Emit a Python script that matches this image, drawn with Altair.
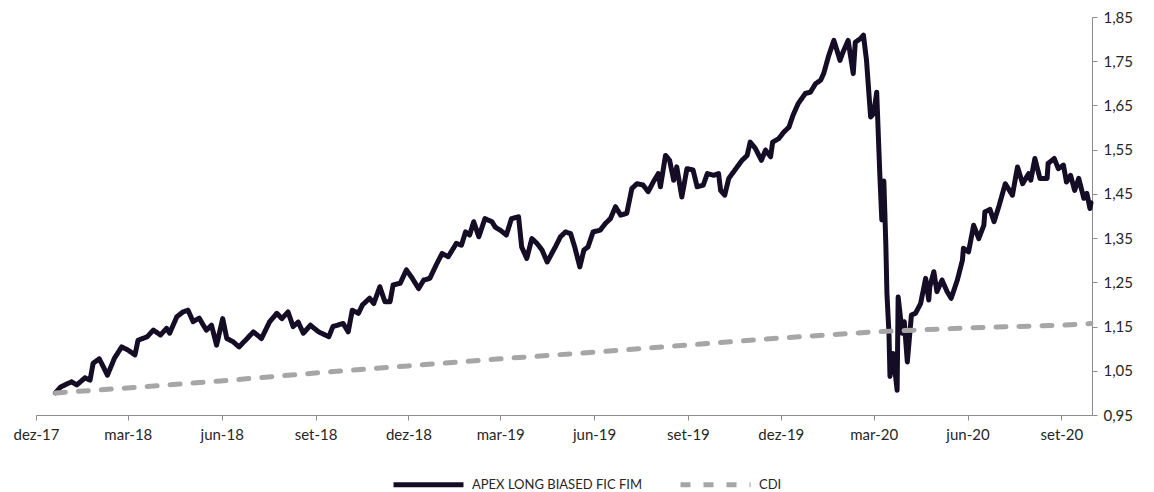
import altair as alt
import pandas as pd

START = "2017-12-01"  # day 0 of the day offsets below

fund_name = "APEX LONG BIASED FIC FIM"
cdi_name = "CDI"

fund_days = [19, 24, 30, 35, 40, 48, 53, 56, 62, 66, 70, 77, 84, 90, 97, 100, 109, 115, 122, 128,
             131, 138, 144, 149, 154, 160, 164, 167, 172, 177, 183, 187, 193, 199, 207, 213, 221, 229, 236, 241,
             247, 252, 257, 262, 269, 277, 287, 291, 301, 306, 310, 316, 320, 327, 331, 337, 342, 347, 350, 357,
             363, 368, 375, 380, 386, 393, 398, 404, 412, 417, 421, 425, 429, 434, 440, 447, 450, 455, 461, 466,
             473, 476, 481, 486, 491, 496, 501, 509, 514, 519, 524, 528, 533, 537, 541, 546, 553, 558, 563, 568,
             573, 579, 584, 589, 595, 600, 605, 610, 612, 617, 621, 625, 628, 633, 638, 644, 648, 654, 658, 664,
             669, 671, 675, 679, 685, 692, 697, 700, 705, 711, 715, 720, 722, 728, 733, 738, 742, 747, 754, 759,
             764, 769, 772, 777, 782, 785, 788, 791, 796, 801, 803, 808, 811, 814, 818, 821, 824, 827, 829, 831,
             833, 834, 836, 837, 840, 844, 845, 849, 851, 854, 858, 862, 867, 872, 875, 876, 880, 883, 888, 893,
             897, 903, 908, 909, 914, 919, 924, 929, 930, 935, 939, 944, 950, 957, 962, 967, 973, 975, 979, 984,
             991, 992, 998, 1002, 1007, 1010, 1014, 1018, 1022, 1027, 1030, 1033, 1034]
fund_vals = [1.000, 1.013, 1.020, 1.025, 1.018, 1.034, 1.029, 1.067, 1.077, 1.059, 1.040, 1.079, 1.104, 1.097, 1.086, 1.119, 1.127, 1.142, 1.131, 1.146,
             1.135, 1.172, 1.183, 1.187, 1.161, 1.169, 1.153, 1.142, 1.153, 1.108, 1.168, 1.123, 1.116, 1.104, 1.123, 1.138, 1.123, 1.161, 1.180, 1.168,
             1.183, 1.150, 1.160, 1.135, 1.153, 1.138, 1.127, 1.150, 1.157, 1.138, 1.187, 1.180, 1.199, 1.214, 1.202, 1.240, 1.206, 1.206, 1.244, 1.248,
             1.278, 1.262, 1.236, 1.255, 1.259, 1.293, 1.315, 1.308, 1.338, 1.334, 1.364, 1.357, 1.387, 1.353, 1.394, 1.387, 1.375, 1.368, 1.357, 1.394,
             1.398, 1.330, 1.304, 1.349, 1.338, 1.323, 1.296, 1.330, 1.353, 1.364, 1.360, 1.330, 1.285, 1.323, 1.330, 1.364, 1.368, 1.383, 1.394, 1.421,
             1.402, 1.406, 1.462, 1.473, 1.470, 1.455, 1.477, 1.496, 1.466, 1.537, 1.526, 1.481, 1.511, 1.443, 1.507, 1.504, 1.466, 1.470, 1.496, 1.492,
             1.496, 1.458, 1.447, 1.485, 1.504, 1.526, 1.537, 1.567, 1.553, 1.526, 1.549, 1.534, 1.567, 1.575, 1.590, 1.601, 1.628, 1.654, 1.677, 1.680,
             1.699, 1.707, 1.722, 1.763, 1.797, 1.775, 1.752, 1.771, 1.797, 1.722, 1.793, 1.801, 1.809, 1.752, 1.624, 1.632, 1.680, 1.496, 1.391, 1.479,
             1.330, 1.225, 1.135, 1.037, 1.089, 1.006, 1.217, 1.135, 1.161, 1.070, 1.176, 1.180, 1.202, 1.259, 1.210, 1.240, 1.274, 1.229, 1.255, 1.229,
             1.214, 1.255, 1.300, 1.327, 1.319, 1.379, 1.349, 1.379, 1.409, 1.415, 1.387, 1.424, 1.473, 1.447, 1.511, 1.473, 1.496, 1.481, 1.530, 1.485,
             1.485, 1.519, 1.530, 1.507, 1.515, 1.477, 1.492, 1.458, 1.485, 1.440, 1.451, 1.417, 1.430]

cdi_days = [19, 89, 181, 274, 365, 455, 547, 638, 729, 821, 913, 1005, 1034]
cdi_vals = [1.000, 1.011, 1.027, 1.045, 1.061, 1.077, 1.092, 1.108, 1.124, 1.138, 1.147, 1.153, 1.157]

y_ticks = [0.95, 1.05, 1.15, 1.25, 1.35, 1.45, 1.55, 1.65, 1.75, 1.85]
x_ticks = [(2017, 12), (2018, 3), (2018, 6), (2018, 9), (2018, 12), (2019, 3), (2019, 6),
           (2019, 9), (2019, 12), (2020, 3), (2020, 6), (2020, 9)]
month_names = ['jan', 'fev', 'mar', 'abr', 'mai', 'jun', 'jul', 'ago', 'set', 'out', 'nov', 'dez']

start = pd.Timestamp(START)


def to_dates(days):
    return [(start + pd.Timedelta(days=d)).strftime("%Y-%m-%d") for d in days]


df = pd.concat([
    pd.DataFrame({"serie": fund_name, "data": to_dates(fund_days), "valor": fund_vals}),
    pd.DataFrame({"serie": cdi_name, "data": to_dates(cdi_days), "valor": cdi_vals}),
], ignore_index=True)

names_js = "[" + ",".join(f"'{m}'" for m in month_names) + "]"

x_enc = alt.X(
    "data:T",
    scale=alt.Scale(type="utc",
                    domain=[alt.DateTime(year=2017, month=12, date=1, utc=True),
                            alt.DateTime(year=2020, month=10, date=1, utc=True)]),
    axis=alt.Axis(
        values=[alt.DateTime(year=y, month=m, date=1, utc=True) for y, m in x_ticks],
        labelExpr=f"{names_js}[utcmonth(datum.value)] + '-' + utcFormat(datum.value, '%y')",
        title=None, grid=False, domainColor="#8c8c8c", tickColor="#8c8c8c",
        tickSize=5, labelPadding=7, labelFontSize=15, labelColor="#262626",
        labelFont="Lato", labelOverlap=False, labelFlush=False,
    ),
)

y_enc = alt.Y(
    "valor:Q",
    scale=alt.Scale(domain=[0.95, 1.85], zero=False, nice=False),
    axis=alt.Axis(
        orient="right", values=y_ticks,
        labelExpr="replace(format(datum.value, '.2f'), '.', ',')",
        title=None, grid=False, domainColor="#8c8c8c", tickColor="#8c8c8c",
        tickSize=5, labelPadding=6, labelFontSize=15, labelColor="#262626",
        labelFont="Lato",
    ),
)

chart = alt.Chart(df).mark_line(
    strokeWidth=5, strokeCap="round", strokeJoin="round"
).encode(
    x=x_enc,
    y=y_enc,
    color=alt.Color(
        "serie:N",
        scale=alt.Scale(domain=[fund_name, cdi_name], range=["#150d25", "#a6a6a6"]),
        legend=alt.Legend(
            title=None, orient="none", direction="horizontal",
            legendX=380, legendY=455,
            symbolType="M-3.5,0H3.5", symbolSize=400, symbolStrokeWidth=5,
            labelFontSize=13, labelFont="Lato", labelColor="#262626", labelLimit=400,
            labelOffset=31, columnPadding=28, padding=0,
        ),
    ),
    strokeDash=alt.StrokeDash(
        "serie:N",
        scale=alt.Scale(domain=[fund_name, cdi_name], range=[[1, 0], [10, 13]]),
        legend=None,
    ),
    order=alt.Order("data:T"),
).properties(
    width=1056, height=398,
    autosize=alt.AutoSizeParams(type="none"),
    padding={"left": 28, "top": 9, "right": 54, "bottom": 77},
).configure(font="Lato").configure_view(stroke=None)

chart.save("out.html", embed_options={"renderer": "svg", "actions": False})
